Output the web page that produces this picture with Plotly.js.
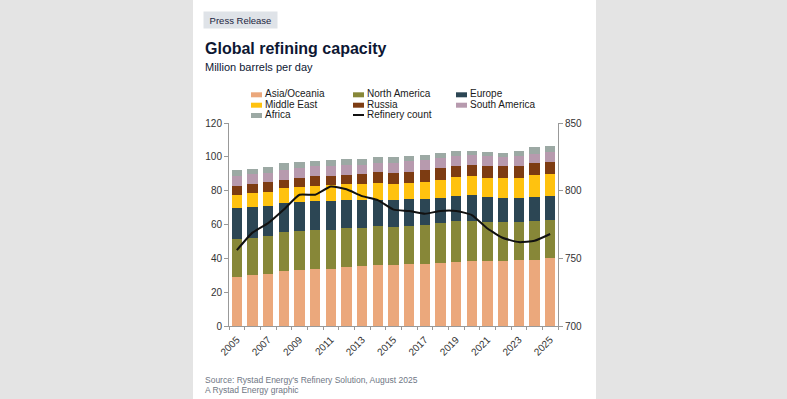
<!DOCTYPE html>
<html><head><meta charset="utf-8">
<script src="https://cdn.plot.ly/plotly-3.0.1.min.js"></script>
<style>html,body{margin:0;padding:0;background:#e4e4e4;overflow:hidden}#chart{width:787px;height:399px}</style>
</head><body><div id="chart"></div>
<script>
// ---- data (million barrels per day, stacked segments) ----
const years = [2005,2006,2007,2008,2009,2010,2011,2012,2013,2014,2015,2016,2017,2018,2019,2020,2021,2022,2023,2024,2025];
const labelYears = [2005,2007,2009,2011,2013,2015,2017,2019,2021,2023,2025];
const tickLabels = ['2005','2007','2009','2011','2013','2015','2017','2019','2021','2023','2025'];
const asiaOceania  = [29.2,30.2,31.0,32.4,33.2,33.7,33.9,35.1,35.5,36.3,36.1,36.5,36.7,37.3,38.1,38.3,38.7,38.3,38.9,39.3,40.1];
const northAmerica = [22.5,22.1,22.5,22.9,22.7,22.9,23.1,22.9,22.3,22.7,22.5,22.7,23.1,23.3,23.7,23.7,22.9,22.9,22.7,22.9,22.7];
const europe       = [17.8,18.2,17.7,17.5,17.3,17.2,16.8,16.2,16.4,15.6,15.6,15.6,15.4,15.2,15.2,15.2,14.4,14.6,14.2,14.2,14.0];
const middleEast   = [8.1,8.0,8.1,8.7,9.1,9.1,9.5,9.5,9.7,9.7,9.9,9.9,10.1,10.6,10.8,11.2,11.4,11.6,11.6,12.8,13.2];
const russia       = [5.1,5.6,5.6,5.1,5.3,5.5,5.3,5.7,5.7,6.5,6.3,6.5,6.7,6.8,6.9,6.7,7.3,6.9,7.3,6.9,7.1];
const southAmerica = [6.1,5.7,5.7,5.8,5.7,5.9,5.9,5.9,5.7,5.7,5.9,6.1,5.9,5.9,5.8,5.7,5.8,5.6,5.9,5.7,5.7];
const africa       = [3.2,3.2,3.5,3.7,3.8,3.4,3.4,3.4,3.4,3.4,3.4,3.0,2.9,2.9,2.7,2.8,2.5,2.5,3.0,3.8,3.8];
const refineryCount = [756,769,776,786,797,797,803,801,796,793,786,785,783,785,785,782,772,765,762,763,768];

const seriesNames = ['Asia/Oceania','North America','Europe','Middle East','Russia','South America','Africa'];
const seriesData  = [asiaOceania,northAmerica,europe,middleEast,russia,southAmerica,africa];
const seriesColors = ['#EBA87C','#878738','#2C4654','#FFC20F','#7D3C12','#B79AAE','#9CA9A4'];

// ---- layout geometry ----
const W=787,H=399,L=229,R=229,T=123,B=73;
const pw=W-L-R, ph=H-T-B;
const px = X => (X-L)/pw;
const py = Y => (H-B-Y)/ph;
const FONT = 'Liberation Sans, Arial, sans-serif';

const traces = seriesNames.map((n,i)=>({
  type:'bar', name:n, x:years, y:seriesData[i],
  marker:{color:seriesColors[i], line:{width:0}},
  showlegend:false, hoverinfo:'skip'
}));
traces.push({
  type:'scatter', mode:'lines', name:'Refinery count', x:years, y:refineryCount, yaxis:'y2',
  line:{color:'#111111', width:2, shape:'spline', smoothing:0.5},
  showlegend:false, hoverinfo:'skip'
});

const shapes = [
  {type:'rect', xref:'paper', yref:'paper', x0:px(193), x1:px(596), y0:py(399), y1:py(0),
   fillcolor:'#ffffff', line:{width:0}, layer:'below'}
];
const annotations = [];

// badge + titles
annotations.push({xref:'paper',yref:'paper',x:px(203.3),y:py(19.5),xanchor:'left',yanchor:'middle',
  text:'Press Release', showarrow:false, bgcolor:'#dfe3e8', borderpad:2, width:69, height:12,
  font:{family:FONT,size:9.5,color:'#1c2540'}});
annotations.push({xref:'paper',yref:'paper',x:px(202.5),y:py(48.5),xanchor:'left',yanchor:'middle',
  text:'<b>Global refining capacity</b>', showarrow:false, font:{family:FONT,size:16,color:'#0d1733'}});
annotations.push({xref:'paper',yref:'paper',x:px(202.5),y:py(67),xanchor:'left',yanchor:'middle',
  text:'Million barrels per day', showarrow:false, font:{family:FONT,size:11,color:'#0d1733'}});

// manual legend
const legCols = [251,353,456];
const legRows = [93.8,104.2,114.5];
seriesNames.forEach((n,k)=>{
  const cx = legCols[k%3], cy = legRows[Math.floor(k/3)];
  shapes.push({type:'rect',xref:'paper',yref:'paper',x0:px(cx),x1:px(cx+11),y0:py(cy+3.5),y1:py(cy-1.5),
    fillcolor:seriesColors[k],line:{width:0}});
  annotations.push({xref:'paper',yref:'paper',x:px(cx+11.5),y:py(cy),xanchor:'left',yanchor:'middle',
    text:n,showarrow:false,font:{family:FONT,size:10,color:'#1a1a1a'}});
});
shapes.push({type:'line',xref:'paper',yref:'paper',x0:px(353),x1:px(364),y0:py(115),y1:py(115),
  line:{color:'#111111',width:2}});
annotations.push({xref:'paper',yref:'paper',x:px(364.5),y:py(114.5),xanchor:'left',yanchor:'middle',
  text:'Refinery count',showarrow:false,font:{family:FONT,size:10,color:'#1a1a1a'}});

// source
annotations.push({xref:'paper',yref:'paper',x:px(202.5),y:py(380),xanchor:'left',yanchor:'middle',
  text:"Source: Rystad Energy's Refinery Solution, August 2025",showarrow:false,font:{family:FONT,size:8.5,color:'#6f7785'}});
annotations.push({xref:'paper',yref:'paper',x:px(202.5),y:py(390),xanchor:'left',yanchor:'middle',
  text:'A Rystad Energy graphic',showarrow:false,font:{family:FONT,size:8.5,color:'#6f7785'}});

const layout = {
  width:W, height:H, margin:{l:L,r:R,t:T,b:B,pad:0},
  paper_bgcolor:'#e4e4e4', plot_bgcolor:'#ffffff',
  barmode:'stack', bargap:0.32,
  font:{family:FONT,size:10,color:'#333333'},
  xaxis:{range:[2004.5,2025.5], tickmode:'array', tickvals:labelYears, ticktext:tickLabels,
    tickangle:-45, ticks:'outside', ticklen:3, tickcolor:'rgba(0,0,0,0)', showline:true, linecolor:'#999999',
    minor:{tickmode:'linear', tick0:2004.5, dtick:1, ticks:'outside', ticklen:3, tickcolor:'#999999', showgrid:false},
    showgrid:false, zeroline:false, tickfont:{family:FONT,size:10,color:'#333333'}},
  yaxis:{range:[0,120], dtick:20, ticks:'outside', ticklen:4, tickcolor:'#999999', showline:true,
    linecolor:'#999999', showgrid:false, zeroline:false, tickfont:{family:FONT,size:10,color:'#333333'}},
  yaxis2:{range:[700,850], dtick:50, overlaying:'y', side:'right', ticks:'outside', ticklen:4,
    tickcolor:'#999999', showline:true, linecolor:'#999999', showgrid:false, zeroline:false,
    tickfont:{family:FONT,size:10,color:'#333333'}},
  shapes:shapes, annotations:annotations, showlegend:false
};
Plotly.newPlot('chart', traces, layout, {displayModeBar:false, staticPlot:true});
</script>
</body></html>
